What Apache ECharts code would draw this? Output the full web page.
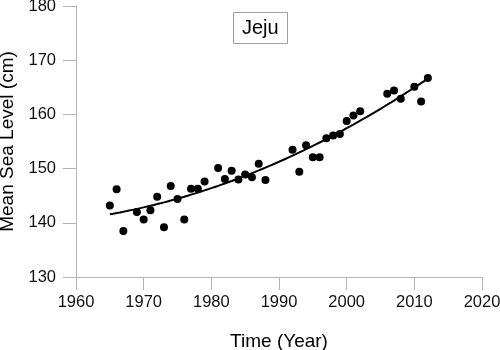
<!DOCTYPE html>
<html>
<head>
<meta charset="utf-8">
<script src="https://cdn.jsdelivr.net/npm/echarts@6/dist/echarts.min.js"></script>
<style>
  html, body { margin: 0; padding: 0; background: #fff; }
  #chart { width: 500px; height: 350px; }
</style>
</head>
<body>
<div id="chart"></div>
<script>
// Annual mean sea level observations at Jeju
const years = [1965, 1966, 1967, 1969, 1970, 1971, 1972, 1973, 1974, 1975, 1976, 1977, 1978, 1979,
  1981, 1982, 1983, 1984, 1985, 1986, 1987, 1988, 1992, 1993, 1994, 1995, 1996, 1997, 1998, 1999,
  2000, 2001, 2002, 2006, 2007, 2008, 2010, 2011, 2012];
const seaLevel = [143.2, 146.2, 138.5, 142.0, 140.6, 142.3, 144.8, 139.2, 146.8, 144.4, 140.6, 146.3, 146.3, 147.6,
  150.1, 148.1, 149.6, 148.0, 148.9, 148.4, 150.9, 147.9, 153.5, 149.4, 154.3, 152.1, 152.1, 155.6, 156.1, 156.4,
  158.8, 159.8, 160.6, 163.8, 164.4, 162.9, 165.1, 162.4, 166.7];

const xTicks = [1960, 1970, 1980, 1990, 2000, 2010, 2020];
const yTicks = [130, 140, 150, 160, 170, 180];

// Second-order least-squares trend through the observations
function quadFit(xs, ys) {
  const x0 = xs[0];
  const S = [0, 0, 0, 0, 0], T = [0, 0, 0];
  xs.forEach((x, i) => {
    const t = x - x0;
    let p = 1;
    for (let k = 0; k < 5; k++) { S[k] += p; if (k < 3) T[k] += p * ys[i]; p *= t; }
  });
  const A = [[S[0], S[1], S[2], T[0]], [S[1], S[2], S[3], T[1]], [S[2], S[3], S[4], T[2]]];
  for (let i = 0; i < 3; i++) {
    for (let j = i + 1; j < 3; j++) {
      const f = A[j][i] / A[i][i];
      for (let k = i; k < 4; k++) A[j][k] -= f * A[i][k];
    }
  }
  const c = [0, 0, 0];
  for (let i = 2; i >= 0; i--) {
    let s = A[i][3];
    for (let k = i + 1; k < 3; k++) s -= A[i][k] * c[k];
    c[i] = s / A[i][i];
  }
  return x => { const t = x - x0; return c[0] + c[1] * t + c[2] * t * t; };
}
const trend = quadFit(years, seaLevel);
const trendLine = [];
for (let y = years[0]; y <= years[years.length - 1]; y += 0.5) trendLine.push([y, trend(y)]);

const axisGray = '#b4b4b4';
const font = 'Liberation Sans, Arial, sans-serif';

const chart = echarts.init(document.getElementById('chart'), null, { renderer: 'canvas' });
chart.setOption({
  animation: false,
  backgroundColor: '#fff',
  title: {
    text: 'Jeju',
    left: 233, top: 12,
    padding: [6, 9, 6, 9],
    borderColor: '#a0a0a0', borderWidth: 1,
    textStyle: { fontFamily: font, fontSize: 20, fontWeight: 'normal', color: '#000' }
  },
  grid: { left: 76, right: 18, top: 6, bottom: 73, containLabel: false, outerBoundsMode: 'none' },
  xAxis: {
    type: 'value', min: xTicks[0], max: xTicks[xTicks.length - 1], interval: 10,
    name: 'Time (Year)', nameLocation: 'middle', nameGap: 55,
    nameTextStyle: { fontFamily: font, fontSize: 19, color: '#000' },
    axisLine: { show: true, onZero: false, lineStyle: { color: axisGray, width: 1 } },
    axisTick: { show: true, inside: false, length: 13, lineStyle: { color: axisGray } },
    axisLabel: { margin: 17, fontFamily: font, fontSize: 16.5, color: '#111', formatter: v => String(v) },
    splitLine: { show: false }
  },
  yAxis: {
    type: 'value', min: yTicks[0], max: yTicks[yTicks.length - 1], interval: 10,
    name: 'Mean Sea Level (cm)', nameLocation: 'middle', nameGap: 55, nameRotate: 90,
    nameTextStyle: { fontFamily: font, fontSize: 19, color: '#000' },
    axisLine: { show: true, onZero: false, lineStyle: { color: axisGray, width: 1 } },
    axisTick: { show: true, inside: false, length: 13, lineStyle: { color: axisGray } },
    axisLabel: { margin: 20, fontFamily: font, fontSize: 16.5, color: '#111', formatter: v => String(v) },
    splitLine: { show: false }
  },
  series: [
    {
      type: 'scatter',
      data: years.map((y, i) => [y, seaLevel[i]]),
      symbol: 'circle', symbolSize: 8,
      itemStyle: { color: '#000', opacity: 1 },
      z: 3
    },
    {
      type: 'line',
      data: trendLine,
      showSymbol: false, smooth: false,
      lineStyle: { color: '#000', width: 2 },
      z: 2
    }
  ]
});
</script>
</body>
</html>
